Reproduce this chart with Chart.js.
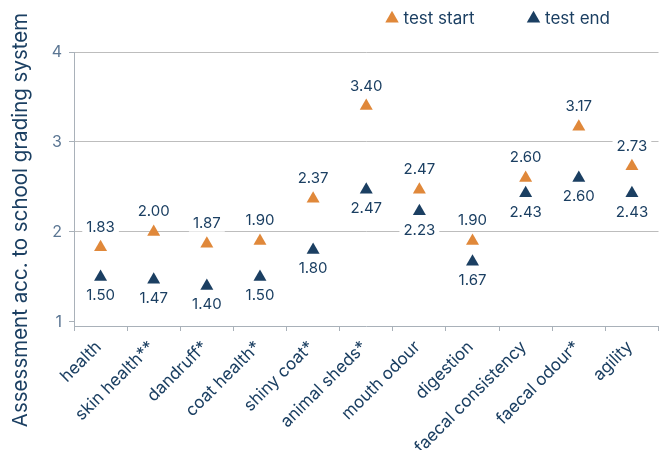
<!DOCTYPE html>
<html>
<head>
<meta charset="utf-8">
<script src="https://cdn.jsdelivr.net/npm/chart.js@4.4.1/dist/chart.umd.min.js"></script>
<style>
  html, body { margin: 0; background: #fff; }
  #wrap { width: 666px; height: 450px; }
</style>
</head>
<body>
<div id="wrap"><canvas id="chart"></canvas></div>
<script>
// data
const categories = ['health', 'skin health**', 'dandruff*', 'coat health*', 'shiny coat*', 'animal sheds*',
  'mouth odour', 'digestion', 'faecal consistency', 'faecal odour*', 'agility'];
const testStart = [1.83, 2.00, 1.87, 1.90, 2.37, 3.40, 2.47, 1.90, 2.60, 3.17, 2.73];
const testEnd = [1.50, 1.47, 1.40, 1.50, 1.80, 2.47, 2.23, 1.67, 2.43, 2.60, 2.43];
const yTicks = [1, 2, 3, 4];
const seriesNames = ['test start', 'test end'];
const yTitle = 'Assessment acc. to school grading system';

const ORANGE = '#e0883a';
const NAVY = '#1b3f62';
const FONT = 'Inter';

// labels with white background above / below the points
const valueLabels = {
  id: 'valueLabels',
  afterDatasetsDraw(chart) {
    const ctx = chart.ctx;
    ctx.save();
    ctx.font = '15px ' + FONT;
    ctx.textAlign = 'center';
    ctx.textBaseline = 'middle';
    chart.data.datasets.forEach((ds, i) => {
      const dy = i === 0 ? -20 : 19;
      chart.getDatasetMeta(i).data.forEach((pt, j) => {
        const txt = ds.data[j].toFixed(2);
        const w = ctx.measureText(txt).width;
        const x = pt.x, y = pt.y + dy;
        ctx.fillStyle = '#fff';
        ctx.fillRect(x - w / 2 - 4, y - 8, w + 8, 16);
        ctx.fillStyle = NAVY;
        ctx.fillText(txt, x, y);
      });
    });
    ctx.restore();
  }
};

// y title, centred lower than the plot
const yTitlePlugin = {
  id: 'yTitlePlugin',
  afterDraw(chart) {
    const ctx = chart.ctx;
    ctx.save();
    ctx.translate(21, 220);
    ctx.rotate(-Math.PI / 2);
    ctx.font = '20.5px ' + FONT;
    ctx.fillStyle = NAVY;
    ctx.textAlign = 'center';
    ctx.textBaseline = 'middle';
    ctx.fillText(yTitle, 0, 0);
    ctx.restore();
  }
};

// move legend up (legend clips to its box, so only the top moves) and a little left
const legendShift = {
  id: 'legendShift',
  afterLayout(chart) {
    const l = chart.legend;
    l.top -= 46;
    l.left -= 3; l.right -= 3;
  }
};

new Chart(document.getElementById('chart'), {
  type: 'line',
  data: {
    labels: categories,
    datasets: [
      { label: seriesNames[0], data: testStart, showLine: false, pointStyle: 'triangle',
        pointRadius: 7.5, pointHoverRadius: 7.5, backgroundColor: ORANGE, borderColor: ORANGE, borderWidth: 0 },
      { label: seriesNames[1], data: testEnd, showLine: false, pointStyle: 'triangle',
        pointRadius: 7.5, pointHoverRadius: 7.5, backgroundColor: NAVY, borderColor: NAVY, borderWidth: 0 }
    ]
  },
  options: {
    responsive: true,
    maintainAspectRatio: false,
    animation: false,
    layout: { padding: { left: 0, top: 0, bottom: 0, right: -3 } },
    plugins: {
      tooltip: { enabled: false },
      legend: {
        position: 'top',
        align: 'end',
        maxHeight: 52,
        labels: {
          usePointStyle: true,
          boxWidth: 6,
          boxHeight: 11,
          padding: 56,
          color: NAVY,
          font: { family: FONT, size: 17 }
        }
      }
    },
    scales: {
      x: {
        offset: true,
        grid: { offset: true, drawOnChartArea: false, tickLength: 5, color: '#a9b1b9' },
        border: { color: '#a9b1b9' },
        ticks: { color: NAVY, minRotation: 45, maxRotation: 45, padding: 6, labelOffset: -2,
          font: { family: FONT, size: 17 } },
        afterFit(s) { s.height = 124; s.paddingLeft = 0; s.paddingRight = 0; }
      },
      y: {
        min: 0.955,
        max: 4,
        afterBuildTicks(s) { s.ticks = yTicks.map(v => ({ value: v })); },
        grid: {
          tickLength: 5,
          color: c => (c.tick && c.tick.value === 1) ? 'rgba(0,0,0,0)' : '#bdbdbd',
          tickColor: '#a9b1b9'
        },
        border: { color: '#a9b1b9' },
        ticks: { color: '#5b7693', padding: 7, font: { family: FONT, size: 16 } },
        afterFit(s) { s.width = 74; }
      }
    }
  },
  plugins: [valueLabels, yTitlePlugin, legendShift]
});
</script>
</body>
</html>
